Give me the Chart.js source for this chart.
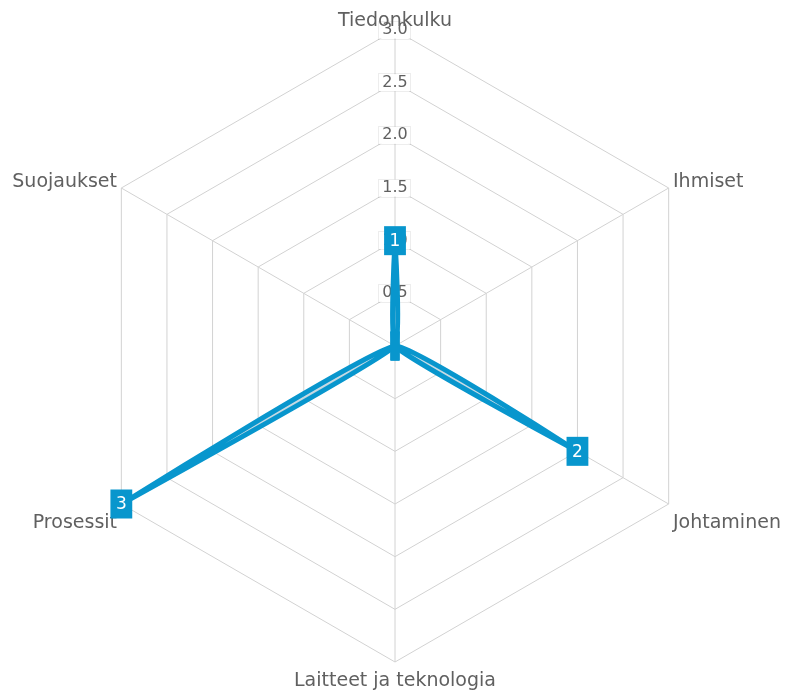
<!DOCTYPE html>
<html>
<head>
<meta charset="utf-8">
<script src="https://cdn.jsdelivr.net/npm/chart.js@4/dist/chart.umd.min.js"></script>
<style>
    html, body { margin: 0; padding: 0; background: #fff; }
</style>
</head>
<body>
<canvas id="radarChart" width="786" height="697"></canvas>
<script>
// Chart data
const categories = ['Tiedonkulku', 'Ihmiset', 'Johtaminen', 'Laitteet ja teknologia', 'Prosessit', 'Suojaukset'];
const scores = [1, 0, 2, 0, 3, 0];
const tickValues = [0, 0.5, 1, 1.5, 2, 2.5, 3];

const lineColor = 'rgb(8, 150, 205)';
const textColor = '#606060';
const gridColor = '#d2d2d2';
const tickFontSize = 16;

// Category names around the web + faint frame round tick labels (drawn under the series)
const outerLabels = {
    id: 'outerLabels',
    beforeDatasetsDraw(chart) {
        const scale = chart.scales.r;
        const ctx = chart.ctx;
        ctx.save();

        // faint outline of the tick label backdrops
        ctx.font = tickFontSize + 'px "DejaVu Sans"';
        ctx.strokeStyle = 'rgba(0, 0, 0, 0.07)';
        ctx.lineWidth = 1;
        scale.ticks.forEach((tick, i) => {
            if (i === 0) return;
            const dist = scale.getDistanceFromCenterForValue(tick.value);
            const w = ctx.measureText(tick.label).width + 6;
            const h = tickFontSize + 1;
            ctx.strokeRect(Math.round(scale.xCenter - w / 2) - 0.5, Math.round(scale.yCenter - dist - h / 2) - 0.5, Math.round(w) + 1, h + 1);
        });

        ctx.font = '19px "DejaVu Sans"';
        ctx.fillStyle = textColor;
        ctx.textBaseline = 'alphabetic';
        categories.forEach((label, i) => {
            const p = scale.getPointPosition(i, scale.drawingArea + 5);
            const dx = p.x - scale.xCenter;
            const dy = p.y - scale.yCenter;
            ctx.textAlign = dx > 1 ? 'left' : (dx < -1 ? 'right' : 'center');
            let y = p.y + 1;
            if (dy > 0) y = Math.abs(dx) < 1 ? p.y + 19 : p.y + 21;
            ctx.fillText(label, p.x, y);
        });
        ctx.restore();
    }
};

// Value boxes on each point
const valueBoxes = {
    id: 'valueBoxes',
    afterDatasetsDraw(chart) {
        const ctx = chart.ctx;
        const meta = chart.getDatasetMeta(0);
        ctx.save();
        ctx.font = '17px "DejaVu Sans"';
        ctx.textAlign = 'center';
        ctx.textBaseline = 'middle';
        const order = meta.data.map((_, i) => i).sort((a, b) => scores[a] - scores[b]);
        order.forEach(i => {
            const pt = meta.data[i];
            const text = scores[i] ? String(scores[i]) : '';
            const w = text ? ctx.measureText(text).width + 11 : 9;
            const h = 29;
            ctx.fillStyle = lineColor;
            ctx.fillRect(pt.x - w / 2, pt.y - h / 2, w, h);
            if (text) {
                ctx.fillStyle = '#ffffff';
                ctx.fillText(text, pt.x, pt.y + 1);
            }
        });
        ctx.restore();
    }
};

const ctx = document.getElementById('radarChart').getContext('2d');
const radarChart = new Chart(ctx, {
    type: 'radar',
    data: {
        labels: categories,
        datasets: [{
            data: scores,
            borderColor: lineColor,
            backgroundColor: 'rgba(185, 210, 222, 0.8)',
            borderWidth: 5,
            fill: true,
            tension: 0.09,
            pointRadius: 0,
            pointHoverRadius: 0
        }]
    },
    options: {
        responsive: false,
        animation: false,
        events: [],
        layout: {
            padding: { left: 70, right: 66, top: 21, bottom: 26 }
        },
        plugins: {
            legend: { display: false },
            tooltip: { enabled: false }
        },
        scales: {
            r: {
                min: 0,
                max: 3,
                afterBuildTicks: axis => {
                    axis.ticks = tickValues.map(v => ({ value: v }));
                },
                grid: { color: gridColor, lineWidth: 1 },
                angleLines: { color: gridColor, lineWidth: 1 },
                pointLabels: { display: false },
                ticks: {
                    color: textColor,
                    font: { family: 'DejaVu Sans', size: tickFontSize },
                    backdropColor: '#ffffff',
                    backdropPadding: { x: 3, y: 0.5 },
                    callback: value => value.toFixed(1)
                }
            }
        }
    },
    plugins: [outerLabels, valueBoxes]
});
</script>
</body>
</html>
